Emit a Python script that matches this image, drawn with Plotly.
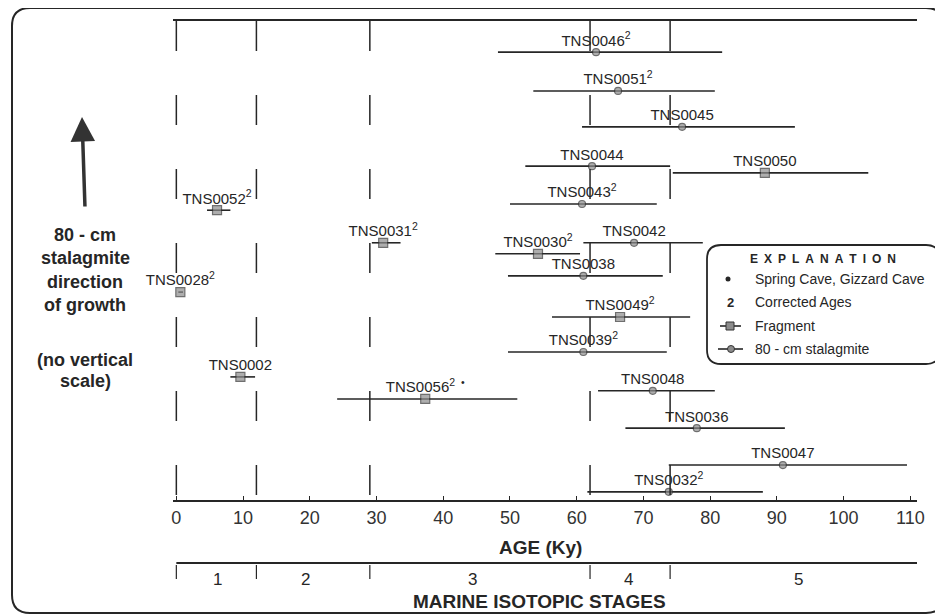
import plotly.graph_objects as go

# U-series ages (ky): centre value and the ends of each error bar
names = ['TNS0046', 'TNS0051', 'TNS0045', 'TNS0044', 'TNS0050', 'TNS0043', 'TNS0052',
         'TNS0042', 'TNS0031', 'TNS0030', 'TNS0038', 'TNS0028', 'TNS0049', 'TNS0039',
         'TNS0002', 'TNS0048', 'TNS0056', 'TNS0036', 'TNS0047', 'TNS0032']
age = [62.9, 66.2, 75.8, 62.3, 88.2, 60.8, 6.1, 68.6, 31.0, 54.2,
       61.0, 0.6, 66.5, 61.0, 9.6, 71.4, 37.3, 78.0, 90.9, 73.8]
age_lo = [48.2, 53.5, 60.8, 52.3, 74.4, 50.0, 4.6, 61.0, 29.3, 47.8,
          49.7, 0.3, 56.3, 49.7, 8.1, 63.2, 24.1, 67.3, 73.8, 61.6]
age_hi = [81.8, 80.7, 92.7, 74.0, 103.7, 72.0, 8.1, 78.9, 33.6, 60.5,
          72.9, 1.0, 77.0, 73.5, 11.8, 80.7, 51.1, 91.2, 109.5, 87.9]
# position in the stalagmite (no vertical scale, 0 = base, 100 = top)
height = [93.5, 85.4, 77.9, 69.7, 68.3, 61.8, 60.5, 53.7, 53.7, 51.4,
          46.8, 43.4, 38.2, 30.9, 25.7, 22.8, 21.1, 15.0, 7.3, 1.7]
corrected = [1, 1, 0, 0, 0, 1, 1, 0, 1, 1, 0, 1, 1, 1, 0, 0, 1, 0, 0, 1]
fragment = [0, 0, 0, 0, 1, 0, 1, 0, 1, 1, 0, 1, 1, 0, 1, 0, 1, 0, 0, 0]
spring_cave = ['TNS0056']

age_ticks = [0, 10, 20, 30, 40, 50, 60, 70, 80, 90, 100, 110]
stage_bounds = [0, 12, 29, 62, 74]
stage_names = ['1', '2', '3', '4', '5']
stage_mid = [6.1, 19.3, 44.4, 67.7, 93.2]

INK = '#262626'

# the page puts the figure 8 px in from the corner; below, positions are
# given in page pixels, relative to the plot area (x 173..917, y 21..500)
def px(x):
    return (x - 173) / 744

def py(y):
    return (500 - y) / 479

def box_path(left, top, right, bottom, r):
    x0, x1 = px(left), px(right)
    y0, y1 = py(bottom), py(top)
    rx, ry = r / 744, r / 479
    return (f'M{x0 + rx},{y1} L{x1 - rx},{y1} Q{x1},{y1} {x1},{y1 - ry} '
            f'L{x1},{y0 + ry} Q{x1},{y0} {x1 - rx},{y0} L{x0 + rx},{y0} '
            f'Q{x0},{y0} {x0},{y0 + ry} L{x0},{y1 - ry} Q{x0},{y1} {x0 + rx},{y1} Z')

labels = []
for n, c in zip(names, corrected):
    t = n + ('<sup>2</sup>' if c else '')
    if n in spring_cave:
        t += '<sup>\u00a0\u00a0\u2022</sup>'
    labels.append(t)

fig = go.Figure()
# error bars + markers
fig.add_trace(go.Scatter(
    x=age, y=height, mode='markers',
    marker=dict(symbol=['square' if f else 'circle' for f in fragment],
                size=[9 if f else 7 for f in fragment],
                color='#8c8c8c', line=dict(color='#333', width=1.2)),
    error_x=dict(type='data', symmetric=False,
                 array=[h - a for h, a in zip(age_hi, age)],
                 arrayminus=[a - l for a, l in zip(age, age_lo)],
                 width=0, thickness=1.6, color=INK),
    cliponaxis=False, hoverinfo='skip', showlegend=False))
# sample names just above each bar (invisible small marker sets the gap)
fig.add_trace(go.Scatter(
    x=age, y=height, mode='markers+text', text=labels, textposition='top center',
    textfont=dict(size=15, color=INK),
    marker=dict(size=3, opacity=0),
    cliponaxis=False, hoverinfo='skip', showlegend=False))

shapes = []
# stage boundaries through the plot (broken lines)
for b in stage_bounds:
    shapes.append(dict(type='line', xref='x', yref='y', x0=b, x1=b, y0=100, y1=0,
                       line=dict(color=INK, width=1.5, dash='30px,44px')))
# marine isotopic stage scale
shapes.append(dict(type='line', xref='x', yref='paper', x0=0, x1=111,
                   y0=py(563), y1=py(563), line=dict(color=INK, width=2)))
for b in stage_bounds:
    shapes.append(dict(type='line', xref='x', yref='paper', x0=b, x1=b,
                       y0=py(565), y1=py(579), line=dict(color=INK, width=1.2)))
# outer frame and explanation box
shapes.append(dict(type='path', xref='paper', yref='paper',
                   path=box_path(12, 8, 944, 613, 18), line=dict(color=INK, width=2)))
shapes.append(dict(type='path', xref='paper', yref='paper',
                   path=box_path(707, 245, 940, 364, 14), line=dict(color=INK, width=1.8),
                   fillcolor='white'))
# legend symbols
shapes.append(dict(type='circle', xref='paper', yref='paper',
                   x0=px(725.5), x1=px(730.5), y0=py(281.5), y1=py(276.5),
                   fillcolor=INK, line=dict(width=0)))
shapes.append(dict(type='line', xref='paper', yref='paper', x0=px(720), x1=px(741),
                   y0=py(326), y1=py(326), line=dict(color=INK, width=1.6)))
shapes.append(dict(type='rect', xref='paper', yref='paper', x0=px(726), x1=px(734),
                   y0=py(330), y1=py(322), fillcolor='#8c8c8c', line=dict(color='#333', width=1)))
shapes.append(dict(type='line', xref='paper', yref='paper', x0=px(718), x1=px(743),
                   y0=py(349), y1=py(349), line=dict(color=INK, width=1.6)))
shapes.append(dict(type='circle', xref='paper', yref='paper',
                   x0=px(727.5), x1=px(734.5), y0=py(352.5), y1=py(345.5),
                   fillcolor='#8c8c8c', line=dict(color='#333', width=1)))

annotations = []

def note(text, x, y, size=14, bold=False, xanchor='center', xref='paper'):
    annotations.append(dict(
        text=f'<b>{text}</b>' if bold else text, x=x, y=y, xref=xref, yref='paper',
        xanchor=xanchor, yanchor='middle', showarrow=False,
        font=dict(size=size, color=INK)))

# growth direction arrow and side text
annotations.append(dict(x=px(82), y=py(117), xref='paper', yref='paper', ax=3, ay=91,
                        text='', showarrow=True, arrowhead=2, arrowsize=1.4,
                        arrowwidth=3.5, arrowcolor='#333'))
for t, y in [('80 - cm', 235), ('stalagmite', 258), ('direction', 282),
             ('of growth', 305), ('(no vertical', 360), ('scale)', 381)]:
    note(t, px(85), py(y), size=18, bold=True)

note('AGE (Ky)', px(540), py(547), size=19, bold=True)
note('MARINE ISOTOPIC STAGES', px(539), py(601), size=19, bold=True)
for s, m in zip(stage_names, stage_mid):
    note(s, m, py(579), size=17, xref='x')

note('E\u2002X\u2002P\u2002L\u2002A\u2002N\u2002A\u2002T\u2002I\u2002O\u2002N',
     px(823), py(259), size=12, bold=True)
note('2', px(730), py(302), size=13, bold=True)
for t, y in [('Spring Cave, Gizzard Cave', 279), ('Corrected Ages', 302),
             ('Fragment', 326), ('80 - cm stalagmite', 349)]:
    note(t, px(753), py(y), size=14, xanchor='left')

fig.update_layout(
    width=943, height=616,
    margin=dict(l=165, r=34, t=13, b=124),
    paper_bgcolor='white', plot_bgcolor='white',
    font=dict(family='Liberation Sans, Arial, sans-serif', color=INK),
    xaxis=dict(range=[-0.5, 111], tickvals=age_ticks, showgrid=False, zeroline=False,
               showline=True, linecolor=INK, linewidth=2, mirror=True,
               ticks='inside', ticklen=4, tickcolor=INK, ticklabelstandoff=0,
               tickfont=dict(size=18, color='#333')),
    yaxis=dict(range=[0, 100], visible=False),
    showlegend=False, shapes=shapes, annotations=annotations)

fig.write_html('out.html')
